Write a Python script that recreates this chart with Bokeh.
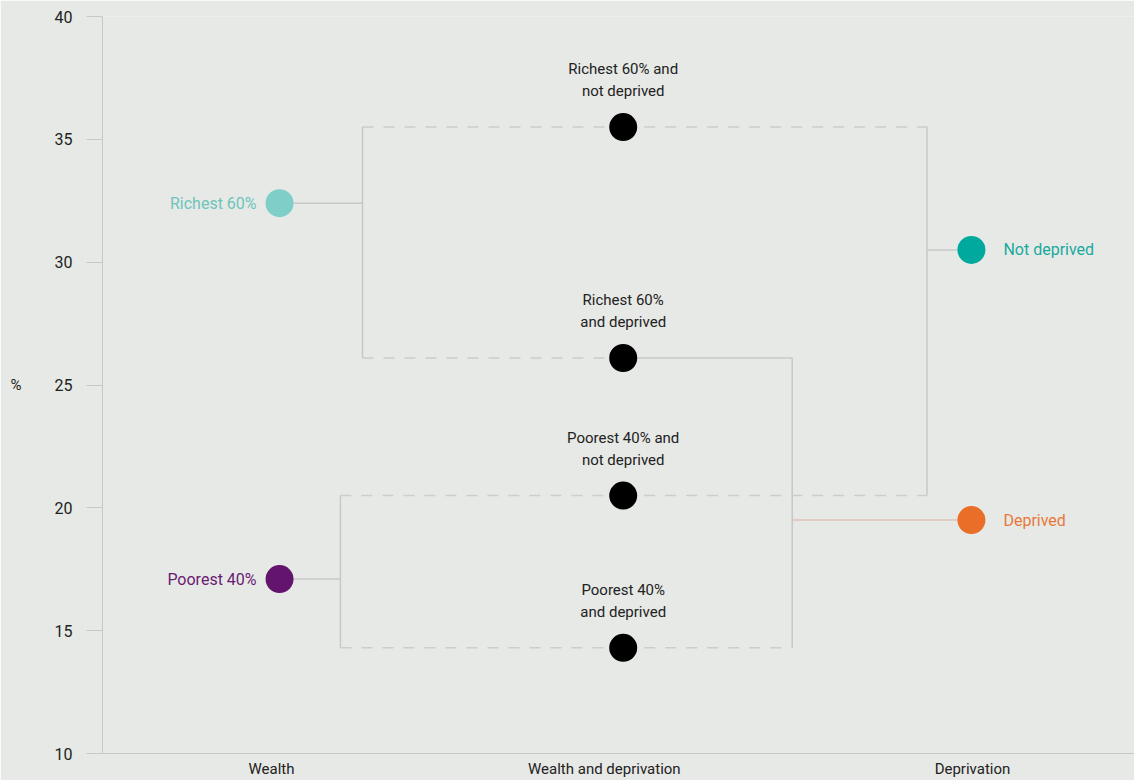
from bokeh.plotting import figure
from bokeh.models import ColumnDataSource, Range1d, FixedTicker
from bokeh.core.properties import value
from bokeh.embed import file_html
from bokeh.resources import INLINE

# ---------------- data ----------------
stage_labels = ["Wealth", "Wealth and deprivation", "Deprivation"]

wealth_groups = ["Richest 60%", "Poorest 40%"]
wealth_values = [32.4, 17.1]

combo_groups = ["Richest 60% and\nnot deprived", "Richest 60%\nand deprived",
                "Poorest 40% and\nnot deprived", "Poorest 40%\nand deprived"]
combo_values = [35.5, 26.1, 20.5, 14.3]

depr_groups = ["Not deprived", "Deprived"]
depr_values = [30.5, 19.5]

y_ticks = [10, 15, 20, 25, 30, 35, 40]

# ---------------- style / layout ----------------
BG = "#e7e9e6"
GREY = "#c6c8c9"
DASH_GREY = "#cbcdce"
TEXT = "#222222"
FONT = "Roboto"
wealth_colors = ["#7fcfc8", "#63146c"]
wealth_text_colors = ["#6cc4bc", "#6a1a73"]
depr_colors = ["#00a99d", "#e96e28"]
depr_text_colors = ["#18aa9e", "#e8783a"]
DEPRIVED_LINE = "#dcc3b8"

STAGE_X = [0.023, 1.005, 2.0]       # column positions of the dots
LABEL_TICKS = [0, 0.951, 2.003]     # positions of the column titles
BR_RICH = 0.26     # bracket of richest group
BR_POOR = 0.197    # bracket of poorest group
BR_NOTD = 1.873    # bracket of not deprived group
BR_DEP = 1.488     # bracket of deprived group

p = figure(width=1134, height=780, output_backend="svg", toolbar_location=None,
           x_range=Range1d(-0.4829, 2.466), y_range=Range1d(10, 40),
           min_border_left=102, min_border_top=16, min_border_right=0, min_border_bottom=20,
           background_fill_color=BG, border_fill_color=BG, outline_line_color=None)
p.xgrid.visible = False
p.ygrid.visible = False

# y axis
p.yaxis.ticker = FixedTicker(ticks=y_ticks)
p.yaxis.major_tick_out = 16
p.yaxis.major_tick_in = 0
p.yaxis.minor_tick_line_color = None
p.yaxis.axis_line_color = GREY
p.yaxis.major_tick_line_color = GREY
p.yaxis.major_label_standoff = 14
p.yaxis.major_label_text_font = FONT
p.yaxis.major_label_text_font_size = "16px"
p.yaxis.major_label_text_color = TEXT
p.yaxis.axis_label = "%"
p.yaxis.axis_label_orientation = "horizontal"
p.yaxis.axis_label_standoff = 30
p.yaxis.axis_label_text_font = FONT
p.yaxis.axis_label_text_font_style = "normal"
p.yaxis.axis_label_text_font_size = "15px"
p.yaxis.axis_label_text_color = TEXT

# x axis
p.xaxis.ticker = FixedTicker(ticks=LABEL_TICKS)
p.xaxis.major_label_overrides = {t: s for t, s in zip(LABEL_TICKS, stage_labels)}
p.xaxis.major_tick_out = 0
p.xaxis.major_tick_in = 0
p.xaxis.minor_tick_line_color = None
p.xaxis.axis_line_color = GREY
p.xaxis.major_label_standoff = 6
p.xaxis.major_label_text_font = FONT
p.xaxis.major_label_text_font_size = "15px"
p.xaxis.major_label_text_color = TEXT

rich, poor = wealth_values
r_nd, r_d, p_nd, p_d = combo_values
notd, dep = depr_values
w_x, c_x, d_x = STAGE_X

# solid connectors
solid = dict(
    x0=[w_x, BR_RICH, w_x, BR_POOR, BR_NOTD, BR_NOTD, c_x, BR_DEP],
    y0=[rich, r_nd, poor, p_nd, r_nd, notd, r_d, r_d],
    x1=[BR_RICH, BR_RICH, BR_POOR, BR_POOR, BR_NOTD, d_x, BR_DEP, BR_DEP],
    y1=[rich, r_d, poor, p_d, p_nd, notd, r_d, p_d],
)
p.segment(x0="x0", y0="y0", x1="x1", y1="y1", source=ColumnDataSource(solid),
          line_color=GREY, line_width=1.5)

# deprived connector
p.segment(x0=[BR_DEP], y0=[dep], x1=[d_x], y1=[dep], line_color=DEPRIVED_LINE, line_width=1.5)

# dashed connectors
dashed = dict(
    x0=[BR_RICH, BR_RICH, BR_POOR, BR_POOR, c_x, c_x, c_x],
    y0=[r_nd, r_d, p_nd, p_d, r_nd, p_nd, p_d],
    x1=[c_x, c_x, c_x, c_x, BR_NOTD, BR_NOTD, BR_DEP],
    y1=[r_nd, r_d, p_nd, p_d, r_nd, p_nd, p_d],
)
p.segment(x0="x0", y0="y0", x1="x1", y1="y1", source=ColumnDataSource(dashed),
          line_color=DASH_GREY, line_width=1.5, line_dash="11 10")

# dots
wsrc = ColumnDataSource(dict(x=[w_x] * 2, y=wealth_values, name=wealth_groups,
                             c=wealth_colors, tc=wealth_text_colors))
p.scatter("x", "y", source=wsrc, size=28, fill_color="c", line_color=None)
p.text("x", "y", text="name", source=wsrc, text_color="tc", text_align="right",
       text_baseline="middle", x_offset=-23, text_font=value(FONT), text_font_size="16px")

csrc = ColumnDataSource(dict(x=[c_x] * 4, y=combo_values, name=combo_groups))
p.scatter("x", "y", source=csrc, size=28, fill_color="black", line_color=None)
p.text("x", "y", text="name", source=csrc, text_color=TEXT, text_align="center",
       text_baseline="bottom", y_offset=-27, text_font=value(FONT), text_font_size="15px",
       text_line_height=1.2)

dsrc = ColumnDataSource(dict(x=[d_x] * 2, y=depr_values, name=depr_groups,
                             c=depr_colors, tc=depr_text_colors))
p.scatter("x", "y", source=dsrc, size=28, fill_color="c", line_color=None)
p.text("x", "y", text="name", source=dsrc, text_color="tc", text_align="left",
       text_baseline="middle", x_offset=32, text_font=value(FONT), text_font_size="16px")

open("out.html", "w").write(file_html(p, INLINE))
